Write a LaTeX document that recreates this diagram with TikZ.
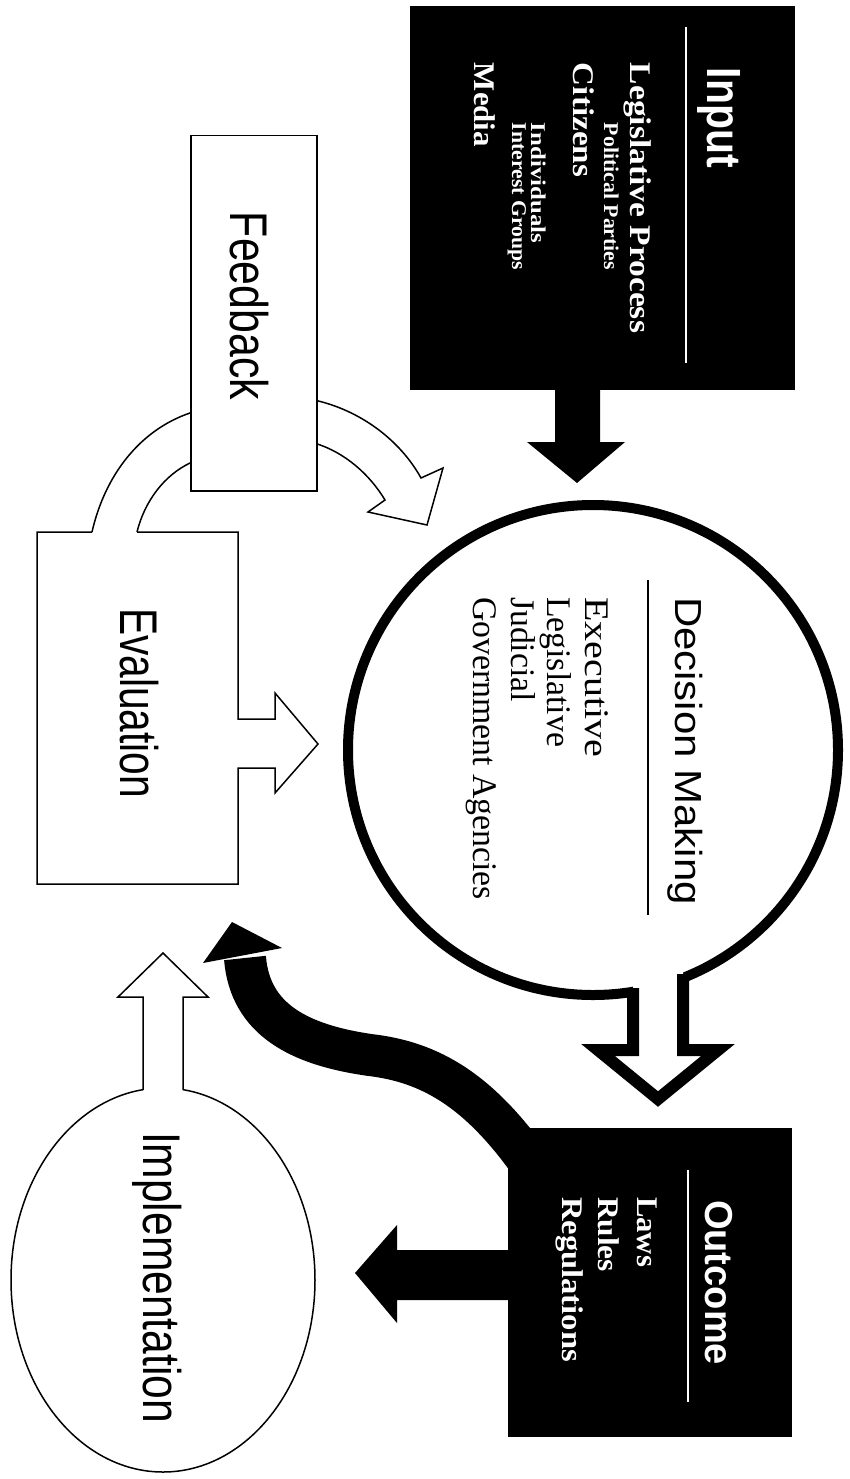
\documentclass[tikz,border=0pt]{standalone}
\usepackage{fontspec}
\usepackage{graphicx}
\usetikzlibrary{shapes.geometric}
\newfontfamily\hsans{Liberation Sans}
\newfontfamily\hserif{Liberation Serif}
\makeatletter
\newlength\fitlen
\newcommand\fitto[2]{\settowidth{\fitlen}{#2}\edef\fitsc{\fpeval{(#1)/(\strip@pt\fitlen)}}\scalebox{\fitsc}[1]{#2}}
\makeatother
\tikzset{
  lbl/.style={rotate=-90, anchor=base west, inner sep=0pt, outer sep=0pt},
  outl/.style={draw=black, line width=1.5pt, fill=white, line join=miter},
  darkbox/.style={fill=black, draw=none, inner sep=0pt, anchor=north west},
  wtxt/.style={lbl, text=white, font=\hserif\bfseries},
  btxt/.style={lbl, text=black, font=\hserif},
  stxt/.style={lbl, text=black, font=\hsans},
  hdtxt/.style={lbl, text=white, font=\hsans\bfseries},
}
\begin{document}
\begin{tikzpicture}[x=1pt,y=-1pt]
\useasboundingbox (0,0) rectangle (850,1479);
\fill[white] (0,0) rectangle (850,1479);

% ---------- Input box ----------
\node[darkbox, minimum width=385pt, minimum height=384pt] (input) at (410,6) {};
\fill (555,388) -- (555,442) -- (527,442) -- (577,483) -- (625,442) -- (600,442) -- (600,388) -- cycle;
\draw[white, line width=2pt] (686,27) -- (686,363);
\node[hdtxt] (inputt) at (707,68) {\fitto{100}{\fontsize{48}{50}\selectfont Input}};
\node[wtxt] (i1) at (630,63) {\fitto{270}{\fontsize{30}{32}\selectfont Legislative Process}};
\node[wtxt] (i2) at (604,123) {\fitto{147}{\fontsize{21}{22}\selectfont Political Parties}};
\node[wtxt] (i3) at (573,63) {\fitto{114}{\fontsize{30}{32}\selectfont Citizens}};
\node[wtxt] (i4) at (531,123) {\fitto{120}{\fontsize{21}{22}\selectfont Individuals}};
\node[wtxt] (i5) at (512,123) {\fitto{147}{\fontsize{21}{22}\selectfont Interest Groups}};
\node[wtxt] (i6) at (474,63) {\fitto{84}{\fontsize{30}{32}\selectfont Media}};

% ---------- Decision Making ----------
\node[circle, draw=black, line width=10pt, minimum size=490pt, inner sep=0pt] (dm) at (593,750) {};
\draw[line width=1.5pt] (648,580) -- (648,915);
\node[stxt] (dmt) at (675,597) {\fitto{308}{\fontsize{37.7}{40}\selectfont Decision Making}};
\node[btxt] (d1) at (585,597) {\fitto{160}{\fontsize{34.5}{36}\selectfont Executive}};
\node[btxt] (d2) at (547.5,597) {\fitto{150}{\fontsize{34.5}{36}\selectfont Legislative}};
\node[btxt] (d3) at (511,597) {\fitto{105}{\fontsize{34.5}{36}\selectfont Judicial}};
\node[btxt] (d4) at (473,597) {\fitto{303}{\fontsize{34.5}{36}\selectfont Government Agencies}};

% hollow arrow Decision -> Outcome
\fill[white] (633,955) -- (633,1050) -- (598,1050) -- (658,1099) -- (718,1050) -- (683,1050) -- (683,955) -- cycle;
\draw[line width=12pt, line join=miter] (633,988) -- (633,1050) -- (598,1050) -- (658,1099) -- (718,1050) -- (683,1050) -- (683,974);

% ---------- Outcome box ----------
\node[darkbox, minimum width=284pt, minimum height=309pt] (outcome) at (508,1128) {};
\draw[white, line width=2pt] (688,1170) -- (688,1402);
\node[hdtxt] (outt) at (705,1200) {\fitto{165}{\fontsize{39}{40}\selectfont Outcome}};
\node[wtxt] (o1) at (637,1197) {\fitto{70}{\fontsize{30}{32}\selectfont Laws}};
\node[wtxt] (o2) at (598,1197) {\fitto{75}{\fontsize{30}{32}\selectfont Rules}};
\node[wtxt] (o3) at (562,1197) {\fitto{165}{\fontsize{30}{32}\selectfont Regulations}};

% Outcome -> Implementation arrow
\fill (510,1250) -- (397,1250) -- (397,1225) -- (355,1273) -- (397,1323) -- (397,1300) -- (510,1300) -- cycle;

% curvy arrow Outcome -> Evaluation
\draw[line width=42pt] (535,1170) .. controls (480,1090) and (430,1062) .. (370,1055) .. controls (300,1045) and (250,1020) .. (245,958);
\fill (203,963) -- (232,922) -- (282,948) -- cycle;

% ---------- Implementation ----------
\node[ellipse, draw=black, line width=1.5pt, fill=white, minimum width=304pt, minimum height=384pt, inner sep=0pt] (impl) at (163,1280) {};
\fill[white] (143,1100) -- (143,997) -- (118,997) -- (163,953) -- (208,997) -- (183,997) -- (183,1100) -- cycle;
\draw[line width=1.5pt, line join=miter] (143,1090) -- (143,997) -- (118,997) -- (163,953) -- (208,997) -- (183,997) -- (183,1090);
\node[stxt] (implt) at (143,1132) {\fitto{291}{\fontsize{53}{55}\selectfont Implementation}};

% ---------- Evaluation ----------
\draw[outl] (137,532) -- (238,532) -- (238,719) -- (275,719) -- (275,693) -- (318,744) -- (275,793) -- (275,768) -- (238,768) -- (238,884) -- (37,884) -- (37,532) -- (92,532);
\node[stxt] (evalt) at (120,608) {\fitto{190}{\fontsize{53}{55}\selectfont Evaluation}};

% ---------- Feedback ----------
\draw[outl] (92,532) .. controls (105,475) and (140,430) .. (190,413) -- (314,400) .. controls (360,410) and (400,440) .. (421,478) -- (443,468) -- (427,525) -- (368,512) -- (385,500) .. controls (370,475) and (345,452) .. (314,443) -- (190,463) .. controls (165,475) and (145,500) .. (137,532);
\node[draw=black, fill=white, line width=1.5pt, minimum width=126pt, minimum height=355pt, inner sep=0pt, anchor=north west] (fb) at (190,135) {};
\node[stxt] (fbt) at (230,212) {\fitto{188}{\fontsize{53}{55}\selectfont Feedback}};
\end{tikzpicture}
\end{document}
